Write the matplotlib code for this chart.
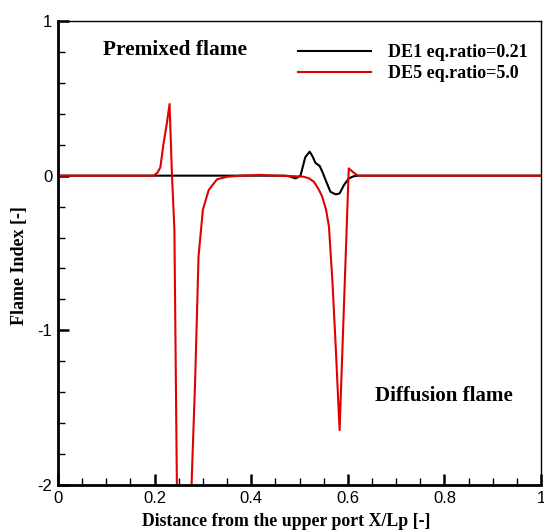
import matplotlib
matplotlib.use("Agg")
import matplotlib.pyplot as plt
from matplotlib.ticker import MultipleLocator

# DE1 (eq.ratio=0.21)
x_de1 = [0.0, 0.10, 0.20, 0.30, 0.40, 0.45, 0.47, 0.480, 0.492, 0.502, 0.512, 0.521,
         0.527, 0.533, 0.542, 0.548, 0.554, 0.564, 0.575, 0.583, 0.592, 0.602, 0.612,
         0.620, 0.70, 0.80, 0.90, 1.0]
y_de1 = [0.0, 0.0, 0.0, 0.0, 0.0, 0.0, 0.0, -0.005, -0.018, 0.0, 0.12, 0.155,
         0.125, 0.083, 0.062, 0.02, -0.028, -0.104, -0.121, -0.115, -0.061, -0.018, -0.004,
         0.0, 0.0, 0.0, 0.0, 0.0]

# DE5 (eq.ratio=5.0)
x_de5 = [0.0, 0.10, 0.198, 0.206, 0.212, 0.218, 0.225, 0.231, 0.236, 0.241, 0.248,
         0.272, 0.277, 0.284, 0.291, 0.300, 0.312, 0.329, 0.350, 0.38, 0.42, 0.45,
         0.48, 0.509, 0.520, 0.530, 0.540, 0.547, 0.555, 0.561, 0.568, 0.575, 0.583,
         0.602, 0.612, 0.621, 0.70, 0.80, 0.90, 1.0]
y_de5 = [0.0, 0.0, 0.0, 0.02, 0.054, 0.198, 0.33, 0.463, 0.0, -0.35, -2.6,
         -2.6, -1.95, -1.32, -0.52, -0.22, -0.093, -0.024, -0.007, 0.0, 0.005, 0.0,
         -0.002, -0.007, -0.018, -0.04, -0.09, -0.136, -0.22, -0.33, -0.675, -1.106, -1.645,
         0.047, 0.02, 0.0, 0.0, 0.0, 0.0, 0.0]

fig = plt.figure(figsize=(5.44, 5.31), dpi=100)
ax = fig.add_axes([58/544, 1-485/531, (541-58)/544, (485-21)/531])

ax.plot(x_de1, y_de1, color="black", lw=1.5, label="DE1 eq.ratio=0.21")
ax.plot(x_de5, y_de5, color="#e00000", lw=1.5, label="DE5 eq.ratio=5.0")

ax.set_xlim(0, 1)
ax.set_ylim(-2, 1)
ax.xaxis.set_minor_locator(MultipleLocator(0.05))
ax.yaxis.set_minor_locator(MultipleLocator(0.2))
ax.set_xticks([0, 0.2, 0.4, 0.6, 0.8, 1.0])
ax.set_xticklabels(["0", "0.2", "0.4", "0.6", "0.8", "1"])
ax.set_yticks([-2, -1, 0, 1])
ax.set_yticklabels(["-2", "-1", "0", "1"])
ax.tick_params(which="major", direction="in", length=8, width=1.8, labelsize=12, pad=4)
ax.tick_params(which="minor", direction="in", length=5, width=1)
for lab in ax.get_xticklabels() + ax.get_yticklabels():
    lab.set_family("Liberation Sans")
for s in ["left", "bottom"]:
    ax.spines[s].set_linewidth(2)
for s in ["top", "right"]:
    ax.spines[s].set_linewidth(1)

serif = "Liberation Serif"
ax.set_xlabel("Distance from the upper port X/Lp [-]", fontsize=12.75, fontweight="bold",
              family=serif)
ax.xaxis.set_label_coords(0.473, -0.060)
ax.set_ylabel("Flame Index [-]", fontsize=13, fontweight="bold", family=serif)
ax.yaxis.set_label_coords(-0.062, 0.472)

ax.text(0.093, 0.9375, "Premixed flame", transform=ax.transAxes, fontsize=15.4,
        fontweight="bold", family=serif, va="center")
ax.text(0.657, 0.192, "Diffusion flame", transform=ax.transAxes, fontsize=15.1,
        fontweight="bold", family=serif, va="center")

leg = ax.legend(loc="upper left", bbox_to_anchor=(0.497, 0.950), frameon=False,
                prop={"family": serif, "weight": "bold", "size": 12.95},
                handlelength=4.05, handletextpad=0.93, labelspacing=0.2,
                borderaxespad=0, borderpad=0)

fig.savefig("out.png", dpi=100)
